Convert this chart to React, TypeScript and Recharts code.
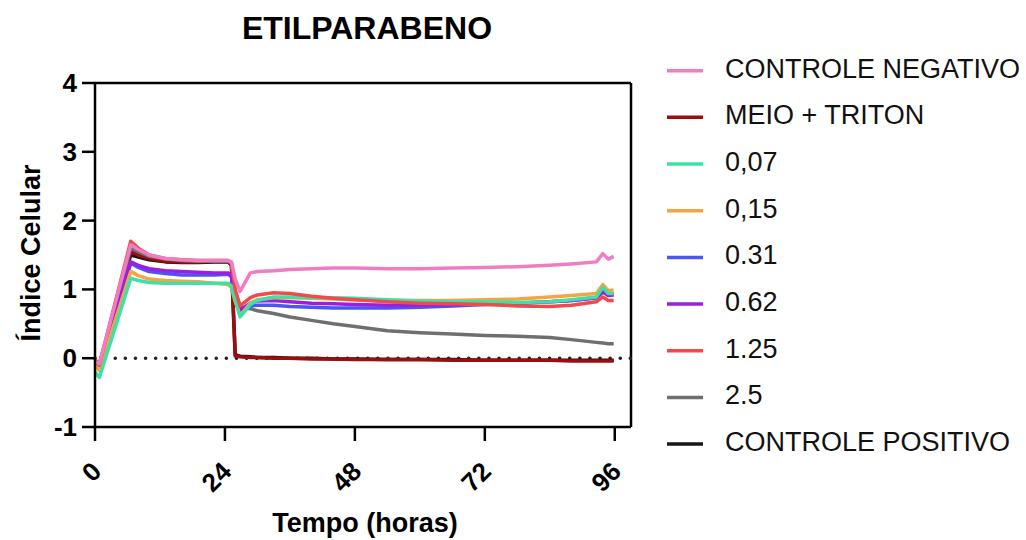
import { FC } from "react";
import {
  Line,
  XAxis,
  YAxis,
  LineChart,
  ReferenceLine,
} from "recharts";

// time points (hours)
const hours = [0, 0.8, 6.6, 8, 10, 13, 16, 19, 22, 24.6, 25.2, 25.9, 26.8, 28.7, 30, 33, 36, 40, 44, 48, 54, 60, 66, 72, 78, 84, 88, 92.6, 93.8, 94.8, 95.8];

const controleNegativo = [-0.05, -0.08, 1.65, 1.58, 1.5, 1.45, 1.43, 1.42, 1.42, 1.42, 1.4, 1.15, 0.97, 1.24, 1.26, 1.27, 1.29, 1.3, 1.31, 1.31, 1.3, 1.3, 1.31, 1.32, 1.33, 1.35, 1.37, 1.4, 1.52, 1.44, 1.48];
const meioTriton = [-0.05, -0.1, 1.55, 1.5, 1.45, 1.41, 1.4, 1.4, 1.41, 1.41, 1.36, 0.03, 0.02, 0.01, 0.01, 0.0, 0.0, -0.01, -0.01, -0.02, -0.02, -0.02, -0.03, -0.03, -0.03, -0.03, -0.04, -0.04, -0.04, -0.04, -0.04];
const c007 = [-0.2, -0.28, 1.16, 1.13, 1.1, 1.09, 1.09, 1.09, 1.09, 1.09, 1.05, 0.85, 0.6, 0.78, 0.84, 0.89, 0.89, 0.88, 0.88, 0.87, 0.85, 0.83, 0.82, 0.82, 0.81, 0.82, 0.85, 0.89, 1.03, 0.94, 0.94];
const c015 = [-0.1, -0.18, 1.26, 1.2, 1.15, 1.13, 1.12, 1.11, 1.09, 1.07, 1.03, 0.82, 0.62, 0.8, 0.85, 0.88, 0.88, 0.87, 0.86, 0.85, 0.84, 0.84, 0.84, 0.85, 0.86, 0.89, 0.91, 0.94, 1.07, 0.98, 0.99];
const c031 = [-0.08, -0.14, 1.38, 1.32, 1.26, 1.23, 1.21, 1.21, 1.21, 1.22, 1.18, 0.9, 0.68, 0.76, 0.77, 0.77, 0.75, 0.74, 0.73, 0.73, 0.73, 0.74, 0.76, 0.78, 0.8, 0.82, 0.84, 0.88, 0.96, 0.92, 0.94];
const c062 = [-0.06, -0.12, 1.4, 1.35, 1.3, 1.27, 1.26, 1.25, 1.24, 1.24, 1.2, 0.92, 0.7, 0.8, 0.83, 0.84, 0.82, 0.8, 0.79, 0.78, 0.77, 0.77, 0.78, 0.79, 0.8, 0.82, 0.84, 0.88, 0.97, 0.91, 0.92];
const c125 = [-0.02, -0.1, 1.7, 1.6, 1.5, 1.45, 1.43, 1.42, 1.42, 1.42, 1.38, 1.0, 0.76, 0.88, 0.92, 0.95, 0.94, 0.9, 0.87, 0.85, 0.82, 0.8, 0.79, 0.78, 0.76, 0.75, 0.77, 0.82, 0.89, 0.84, 0.84];
const c25 = [-0.08, -0.12, 1.6, 1.55, 1.48, 1.44, 1.42, 1.41, 1.41, 1.41, 1.38, 0.95, 0.74, 0.72, 0.69, 0.65, 0.6, 0.55, 0.5, 0.46, 0.4, 0.37, 0.35, 0.33, 0.32, 0.3, 0.27, 0.23, 0.22, 0.21, 0.21];
const controlePositivo = [-0.05, -0.08, 1.5, 1.47, 1.43, 1.4, 1.39, 1.39, 1.4, 1.4, 1.35, 0.05, 0.03, 0.02, 0.01, 0.01, 0.0, 0.0, -0.01, -0.01, -0.02, -0.02, -0.02, -0.03, -0.03, -0.03, -0.03, -0.03, -0.03, -0.03, -0.03];

const xTicks = [0, 24, 48, 72, 96];
const yTicks = [-1, 0, 1, 2, 3, 4];

const series = [
  { key: "cn", name: "CONTROLE NEGATIVO", color: "#f07cc2", values: controleNegativo },
  { key: "mt", name: "MEIO + TRITON", color: "#9c0c10", values: meioTriton },
  { key: "c007", name: "0,07", color: "#3fe0a6", values: c007 },
  { key: "c015", name: "0,15", color: "#f5a443", values: c015 },
  { key: "c031", name: "0.31", color: "#4b55f2", values: c031 },
  { key: "c062", name: "0.62", color: "#9b1fe0", values: c062 },
  { key: "c125", name: "1.25", color: "#f04a4c", values: c125 },
  { key: "c25", name: "2.5", color: "#6f6f6f", values: c25 },
  { key: "cp", name: "CONTROLE POSITIVO", color: "#161616", values: controlePositivo },
];

// drawing order (last on top)
const drawOrder = ["cp", "mt", "c25", "c031", "c062", "c015", "c007", "c125", "cn"];

const data = hours.map((h, i) => {
  const row: Record<string, number> = { h };
  series.forEach((s) => (row[s.key] = s.values[i]));
  return row;
});

const FONT = "'Liberation Sans', Arial, Helvetica, sans-serif";

const XTick: FC<any> = ({ x, y, payload }) => (
  <text
    x={x + 8}
    y={y + 32}
    textAnchor="end"
    transform={`rotate(-45, ${x + 8}, ${y + 32})`}
    fontFamily={FONT}
    fontWeight="bold"
    fontSize={26}
    fill="#000"
  >
    {payload.value}
  </text>
);

const YTick: FC<any> = ({ x, y, payload }) => (
  <text
    x={x}
    y={y}
    textAnchor="end"
    dominantBaseline="central"
    fontFamily={FONT}
    fontWeight="bold"
    fontSize={26}
    fill="#000"
  >
    {payload.value}
  </text>
);

const App: FC = () => {
  return (
    <div style={{ position: "absolute", left: 0, top: 0, width: 1026, height: 540, background: "#fff" }}>
      <LineChart
        width={1026}
        height={540}
        data={data}
        margin={{ top: 83, right: 395, bottom: 53, left: 0 }}
      >
        <XAxis
          dataKey="h"
          type="number"
          domain={[0, 99]}
          ticks={xTicks}
          interval={0}
          height={60}
          tickSize={14}
          tickMargin={0}
          axisLine={{ stroke: "#000", strokeWidth: 2.5 }}
          tickLine={{ stroke: "#000", strokeWidth: 2.5 }}
          tick={<XTick />}
        />
        <YAxis
          type="number"
          domain={[-1, 4]}
          ticks={yTicks}
          interval={0}
          width={95}
          tickSize={13}
          tickMargin={5}
          axisLine={{ stroke: "#000", strokeWidth: 2.5 }}
          tickLine={{ stroke: "#000", strokeWidth: 2.5 }}
          tick={<YTick />}
        />
        <ReferenceLine y={4} stroke="#000" strokeWidth={2.5} />
        <ReferenceLine x={99} stroke="#000" strokeWidth={2.5} />
        <ReferenceLine y={0} stroke="#222" strokeWidth={3.5} strokeDasharray="0.1 10" strokeLinecap="round" />
        {drawOrder.map((k) => {
          const s = series.find((d) => d.key === k)!;
          return (
            <Line
              key={k}
              type="linear"
              dataKey={k}
              name={s.name}
              stroke={s.color}
              strokeWidth={3.5}
              strokeLinejoin="round"
              dot={false}
              activeDot={false}
              isAnimationActive={false}
            />
          );
        })}
      </LineChart>

      <svg
        width={1026}
        height={540}
        style={{ position: "absolute", left: 0, top: 0, pointerEvents: "none" }}
      >
        <text x={367} y={39} textAnchor="middle" fontFamily={FONT} fontWeight="bold" fontSize={32} fill="#000">
          ETILPARABENO
        </text>
        <text
          x={0}
          y={0}
          transform="translate(40, 253) rotate(-90)"
          textAnchor="middle"
          fontFamily={FONT}
          fontWeight="bold"
          fontSize={27}
          fill="#000"
        >
          Índice Celular
        </text>
        <text x={365} y={532} textAnchor="middle" fontFamily={FONT} fontWeight="bold" fontSize={27} fill="#000">
          Tempo (horas)
        </text>
        {series.map((s, i) => {
          const cy = 70.7 + i * 46.67;
          return (
            <g key={s.key}>
              <line x1={667} x2={703} y1={cy} y2={cy} stroke={s.color} strokeWidth={3.5} />
              <text x={725} y={cy + 7} fontFamily={FONT} fontSize={27} fill="#111">
                {s.name}
              </text>
            </g>
          );
        })}
      </svg>
    </div>
  );
};

export default App;
